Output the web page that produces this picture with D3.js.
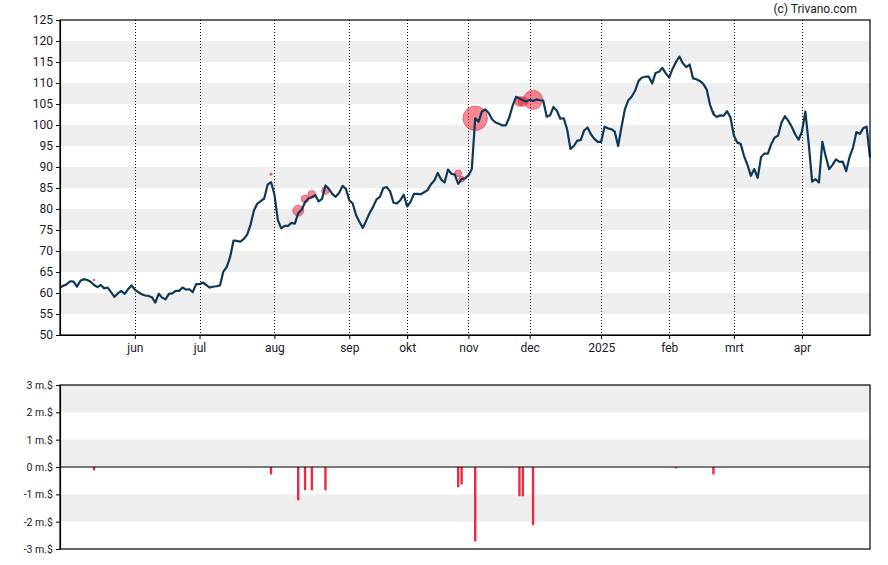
<!DOCTYPE html>
<html><head><meta charset="utf-8">
<script src="https://cdn.jsdelivr.net/npm/d3@7"></script>
<style>
body{margin:0;background:#fff}
svg{display:block}
text{font-family:Roboto,"Liberation Sans",Arial,sans-serif}
</style>
</head><body>
<svg id="c" width="888" height="565"></svg>
<script>
// ---- data ----
const prices = [
61.3,61.7,62.1,62.8,62.7,61.5,62.9,63.3,63.1,62.7,
61.9,61.4,61.9,61.1,61.3,60.2,59.1,59.9,60.5,59.8,
60.9,61.8,60.8,60.2,59.7,59.4,59.3,59.0,57.7,59.8,
58.9,58.5,59.8,59.9,60.5,60.5,61.3,60.8,60.9,60.2,
62.1,62.1,62.5,61.9,61.3,61.5,61.6,61.8,65.1,66.2,
68.6,72.5,72.4,72.2,72.9,73.9,76.3,79.7,81.3,81.9,
82.5,85.8,86.4,83.5,77.4,75.4,76.0,76.0,76.7,76.5,
79.0,79.8,81.6,82.5,82.8,83.3,81.8,82.4,85.6,84.8,
83.6,82.9,83.8,85.5,84.8,82.1,81.3,78.5,76.9,75.5,
77.3,79.1,80.5,82.3,82.9,85.0,85.2,84.2,81.5,81.3,
82.1,83.4,80.6,81.7,83.6,83.6,83.5,84.0,84.5,85.9,
86.8,88.6,87.0,86.3,89.4,88.4,88.2,86.0,87.1,87.3,
88.0,89.5,101.6,100.8,103.3,103.7,102.8,101.3,100.6,100.3,
99.9,99.9,101.8,104.6,106.7,106.3,105.9,105.6,106.0,105.7,
106.1,105.9,105.8,102.0,102.3,104.3,103.4,101.5,101.6,99.0,
94.3,95.0,96.3,96.4,98.7,99.4,97.8,96.7,96.0,96.0,
99.6,99.2,99.0,98.4,95.0,99.6,103.8,105.9,106.8,108.2,
110.5,111.3,111.5,111.5,109.9,112.4,112.7,113.6,112.3,111.3,
113.4,115.0,116.3,114.7,113.8,114.4,111.1,110.9,110.5,109.8,
108.5,104.8,102.6,101.9,102.3,102.2,103.3,101.8,97.5,95.8,
95.5,92.6,90.5,87.9,89.5,87.4,92.4,93.2,93.2,95.5,
97.0,97.5,100.6,102.1,101.0,99.6,97.8,96.5,98.4,103.2,
95.5,86.5,87.1,86.3,96.0,92.5,89.5,90.5,91.8,91.2,
91.3,89.0,92.4,94.6,98.3,97.9,99.2,99.6,92.3
];
const monthTickIndex = [22,41,63,85,102,120,138,159,179,198,218];
const monthLabels = ["jun","jul","aug","sep","okt","nov","dec","2025","feb","mrt","apr"];
const priceTicks = [50,55,60,65,70,75,80,85,90,95,100,105,110,115,120,125];
const priceBandStarts = [55,65,75,85,95,105,115];

// insider trades: day index, value (millions $), trade price
const tradeIndex = [10,62,70,72,74,78,117,118,122,135,136,139,181,192];
const tradeValue = [-0.12,-0.27,-1.22,-0.85,-0.85,-0.85,-0.74,-0.64,-2.72,-1.07,-1.07,-2.13,-0.05,-0.27];
const tradePrice = [63.1,88.3,79.6,82.4,83.5,84.4,88.5,87.1,101.6,105.6,105.6,106.0,115.0,103.0];
const volTicks = [-3,-2,-1,0,1,2,3];
const volBandStarts = [2,0,-2];

// ---- drawing ----
const svg = d3.select("#c");
const L = 60, R = 870, T1 = 20, B1 = 335, T2 = 385, B2 = 549;
const x = d3.scaleLinear().domain([0, prices.length - 1]).range([L, R]);
const y = d3.scaleLinear().domain([50, 125]).range([B1, T1]);
const yv = d3.scaleLinear().domain([-3, 3]).range([B2, T2]);
const rScale = d3.scaleLinear().domain([0, 1]).range([0, 4.5]);

// bands top
svg.append("g").selectAll("rect").data(priceBandStarts).join("rect")
  .attr("x", L).attr("width", R - L)
  .attr("y", d => y(d + 5)).attr("height", d => y(d) - y(d + 5))
  .attr("fill", "#eeeeee");
// bands bottom
svg.append("g").selectAll("rect").data(volBandStarts).join("rect")
  .attr("x", L).attr("width", R - L)
  .attr("y", d => yv(d + 1)).attr("height", d => yv(d) - yv(d + 1))
  .attr("fill", "#eeeeee");

// dotted month lines
svg.append("g").selectAll("line").data(monthTickIndex).join("line")
  .attr("x1", d => Math.round(x(d)) + 0.5).attr("x2", d => Math.round(x(d)) + 0.5)
  .attr("y1", T1).attr("y2", B1)
  .attr("stroke", "#000").attr("stroke-width", 1).attr("stroke-dasharray", "1,2");

// trade bubbles
const trades = tradeIndex.map((d, i) => ({i: d, v: tradeValue[i], p: tradePrice[i]}));
svg.append("g").selectAll("circle").data(trades).join("circle")
  .attr("cx", d => x(d.i)).attr("cy", d => y(d.p))
  .attr("r", d => Math.max(1, rScale(Math.abs(d.v))))
  .attr("fill", "rgba(238,40,60,0.55)")
  .attr("stroke", "rgba(230,30,50,0.5)").attr("stroke-width", 1);

// price line
svg.append("path").datum(prices)
  .attr("d", d3.line().x((d, i) => x(i)).y(d => y(d)))
  .attr("fill", "none").attr("stroke", "#0e3858").attr("stroke-width", 2.2)
  .attr("stroke-linejoin", "round");

// volume bars
svg.append("g").selectAll("rect").data(trades).join("rect")
  .attr("x", d => x(d.i) - 1.2).attr("width", 2.4)
  .attr("y", d => Math.min(yv(0), yv(d.v)))
  .attr("height", d => Math.abs(yv(d.v) - yv(0)))
  .attr("fill", "#ea2a40");

// zero line
svg.append("line").attr("x1", L).attr("x2", R).attr("y1", yv(0)).attr("y2", yv(0))
  .attr("stroke", "#000").attr("stroke-width", 1.2);

// borders
function border(t, b) {
  svg.append("rect").attr("x", L).attr("y", t).attr("width", R - L).attr("height", b - t)
    .attr("fill", "none").attr("stroke", "#000").attr("stroke-width", 1.2);
}
border(T1, B1);
border(T2, B2);

function styleAxis(g, fs) {
  g.selectAll(".domain").attr("stroke", "#000").attr("stroke-width", 1.2);
  g.selectAll(".tick line").attr("stroke", "#000");
  g.selectAll("text").attr("fill", "#1a1a2a").style("font-size", fs + "px")
    .style("font-family", "Roboto, 'Liberation Sans', Arial, sans-serif");
}

// y axis top
const gy = svg.append("g").attr("transform", `translate(${L},0)`)
  .call(d3.axisLeft(y).tickValues(priceTicks).tickSize(4).tickPadding(3).tickSizeOuter(0));
styleAxis(gy, 12);

// x axis top
const gx = svg.append("g").attr("transform", `translate(0,${B1})`)
  .call(d3.axisBottom(x).tickValues(monthTickIndex).tickFormat((d, i) => monthLabels[i])
    .tickSize(4).tickPadding(4).tickSizeOuter(0));
styleAxis(gx, 12);

// y axis bottom
const gv = svg.append("g").attr("transform", `translate(${L},0)`)
  .call(d3.axisLeft(yv).tickValues(volTicks).tickFormat(d => d + " m.$")
    .tickSize(4).tickPadding(3).tickSizeOuter(0));
styleAxis(gv, 10.5);

// copyright
svg.append("text").attr("x", 857).attr("y", 13).attr("text-anchor", "end")
  .style("font-size", "12px").attr("fill", "#222").text("(c) Trivano.com");
</script>
</body></html>
